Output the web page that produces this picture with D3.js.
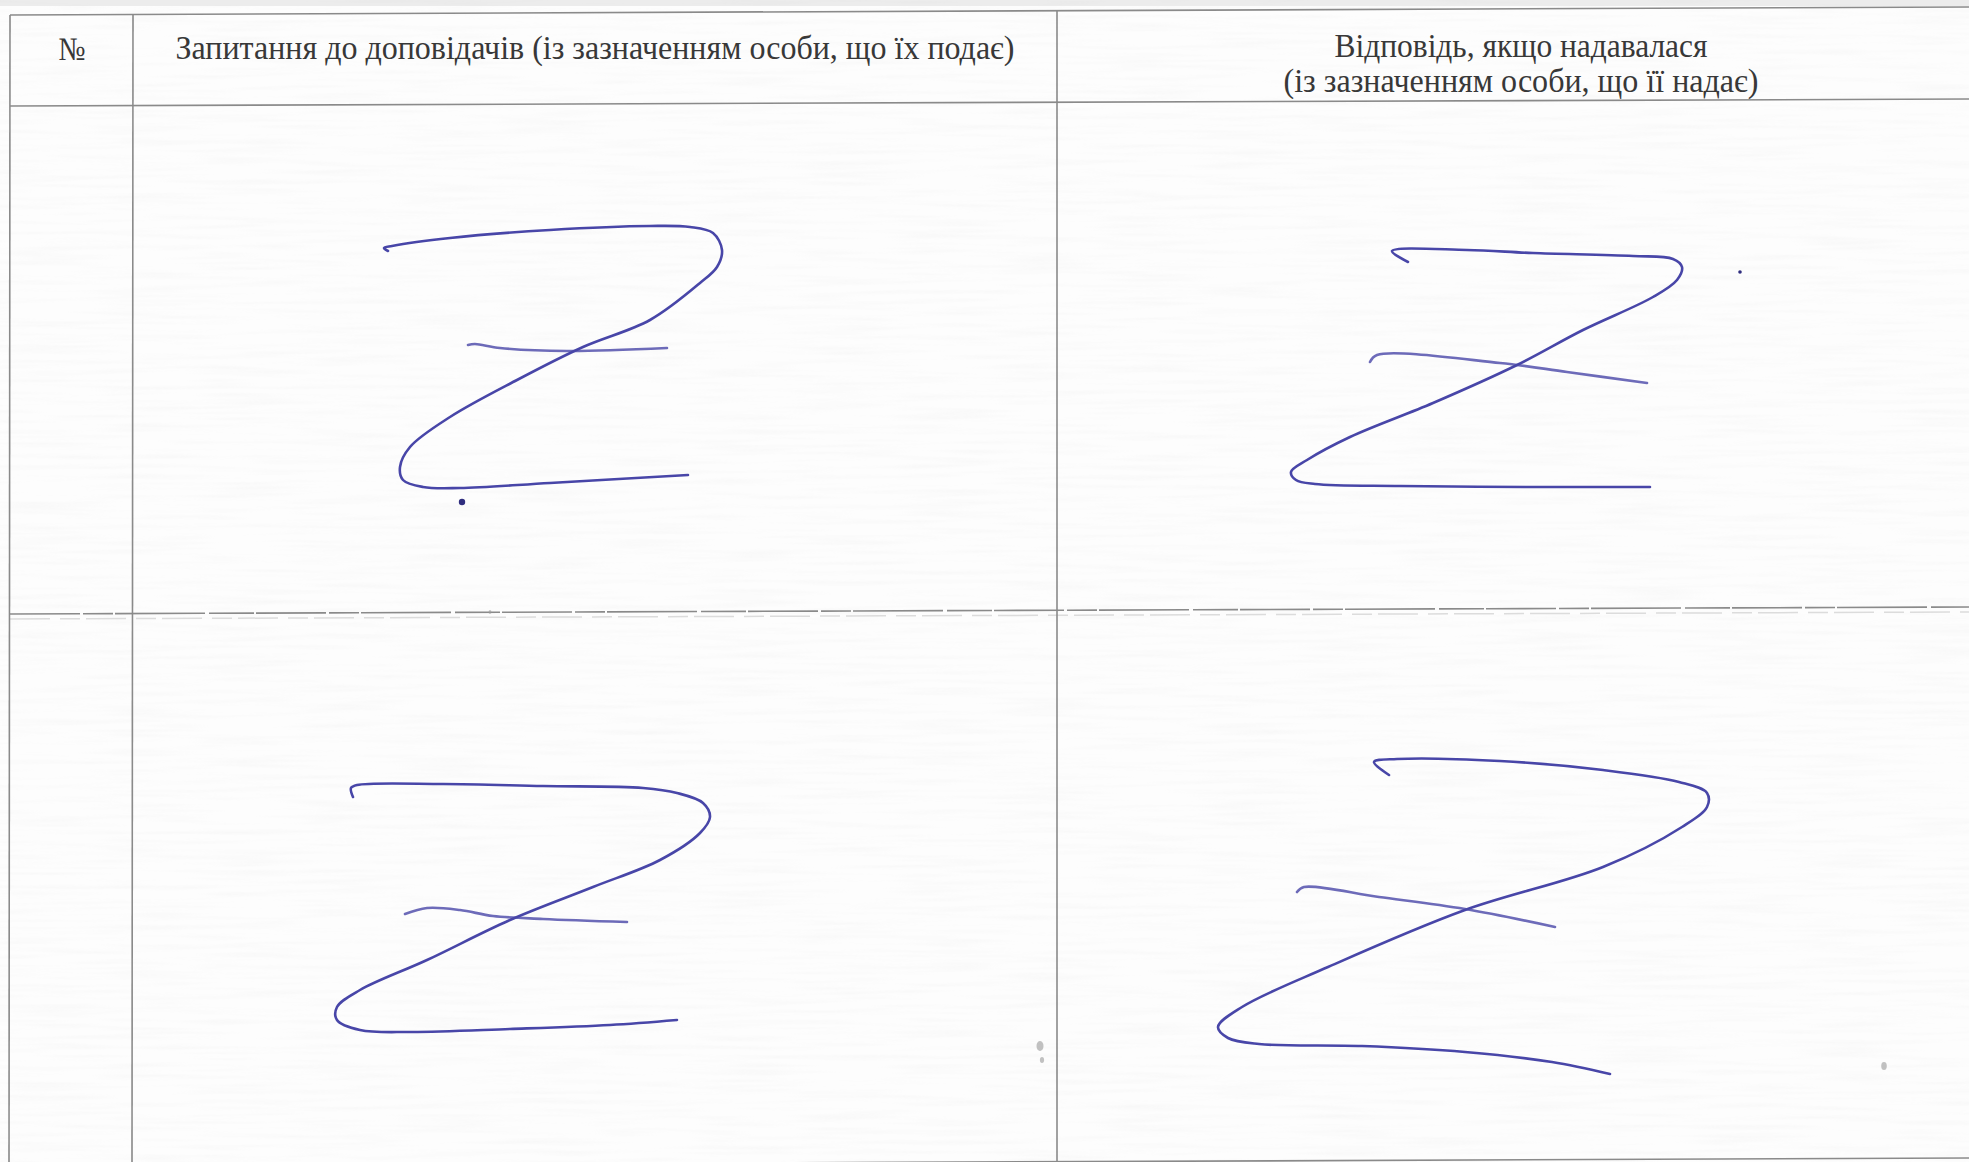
<!doctype html>
<html>
  <head>
    <meta charset="utf-8"/>
    <title>Запитання до доповідачів</title>
    <style>
      body, html {
        margin: 0;
        padding: 0;
        background: #fdfdfd;
        overflow: hidden;
      }
      svg { display: block; }
      .head {
        font-family: "Liberation Serif", "Times New Roman", serif;
        font-size: 33px;
        fill: #383838;
      }
      .rule { stroke: #8a8a8a; stroke-width: 1.6; fill: none; }
      .ink { fill: none; stroke: #4846a8; stroke-width: 2.6; stroke-linecap: round; stroke-linejoin: round; }
    </style>
    <script src="https://d3js.org/d3.v7.min.js"></script>
  </head>
  <body>
    <svg id="sheet" width="1969" height="1162"></svg>

    <script>
      // all values are in pixels of the original scan
      var pageSize = [1969, 1162];

      // column edges of the form (left border, after "№", after questions)
      var colEdges = [10, 133, 1057];
      var colBottomShift = [-1, -1, 0];
      var colCenters = [72, 595, 1521];

      // horizontal rules: y at the left and at the right edge (scan is a bit skewed)
      var ruleLeftY = [15, 106, 614, 1166];
      var ruleRightY = [7, 99, 607, 1158];

      var headerLabels = [
        ["№"],
        ["Запитання до доповідачів (із зазначенням особи, що їх подає)"],
        ["Відповідь, якщо надавалася", "(із зазначенням особи, що її надає)"]
      ];
      var headerLineY = [[48], [47.5], [45, 80]];
      var headerLineWidth = [[27], [839], [373, 475]];

      // handwritten "Z" dashes that strike out the empty cells
      var zQuestion1 = [[388,251],[384,248],[392,246],[450,238],[550,230],[650,226],[690,227],[713,233],[722,250],[717,267],[700,283],[650,320],[583,347],[517,380],[450,417],[410,447],[400,467],[403,480],[423,487],[460,488],[550,483],[688,475]];
      var zQuestion1Bar = [[468,345],[475,344],[500,348],[567,351],[667,348]];
      var zAnswer1 = [[1408,262],[1392,251],[1467,250],[1533,253],[1633,256],[1673,259],[1682,267],[1677,280],[1653,297],[1583,330],[1517,365],[1433,403],[1350,437],[1307,460],[1291,472],[1296,480],[1315,484],[1400,486],[1533,487],[1650,487]];
      var zAnswer1Bar = [[1370,362],[1377,355],[1500,363],[1567,372],[1647,383]];
      var zQuestion2 = [[353,797],[351,788],[357,785],[443,784],[543,786],[643,788],[677,793],[703,803],[710,817],[700,833],[660,860],[593,887],[510,920],[427,960],[360,990],[337,1007],[337,1020],[360,1030],[410,1032],[510,1029],[610,1025],[677,1020]];
      var zQuestion2Bar = [[405,914],[427,908],[460,910],[493,916],[543,919],[627,922]];
      var zAnswer2 = [[1389,775],[1374,762],[1397,759],[1500,761],[1603,770],[1679,782],[1707,793],[1707,807],[1682,827],[1603,867],[1465,910],[1328,967],[1242,1007],[1218,1027],[1228,1038],[1259,1044],[1362,1046],[1465,1052],[1552,1062],[1610,1074]];
      var zAnswer2Bar = [[1297,892],[1304,887],[1379,897],[1465,909],[1555,927]];

      // ink dots and scanner specks
      var inkDots = [[462,502,3.2],[1740,272,1.8]];
      var specks = [[1040,1046,5],[1042,1060,3],[1884,1066,4],[490,612,2]];

      var svg = d3.select("#sheet"),
          width = +svg.attr("width"),
          height = +svg.attr("height");

      var x = d3.scaleLinear().domain([0, pageSize[0]]).range([0, width]),
          y = d3.scaleLinear().domain([0, pageSize[1]]).range([0, height]);

      // faint paper texture of the scan
      var defs = svg.append("defs");
      var f = defs.append("filter").attr("id", "paper")
        .attr("x", 0).attr("y", 0).attr("width", "100%").attr("height", "100%");
      f.append("feTurbulence")
        .attr("type", "fractalNoise")
        .attr("baseFrequency", "0.01 0.2")
        .attr("numOctaves", 2)
        .attr("seed", 7);
      f.append("feColorMatrix")
        .attr("values", "0 0 0 0 0.5  0 0 0 0 0.5  0 0 0 0 0.5  0 0 0 -0.5 0.28");

      svg.append("rect")
        .attr("width", width).attr("height", height)
        .attr("fill", "#fdfdfd");
      svg.append("rect")
        .attr("width", width).attr("height", height)
        .attr("filter", "url(#paper)")
        .attr("opacity", 0.3);

      // darker strip of the scan above the form
      svg.append("rect")
        .attr("x", 0).attr("y", 0)
        .attr("width", width).attr("height", y(6))
        .attr("fill", "#c8c8c8").attr("opacity", 0.3);

      var g = svg.append("g");

      // horizontal rules (the third one is only a fold mark of the scan)
      g.selectAll(".hrule")
        .data(ruleLeftY)
        .enter().append("line")
          .attr("class", "rule")
          .attr("x1", x(colEdges[0]))
          .attr("x2", x(pageSize[0]))
          .attr("y1", function(d) { return y(d); })
          .attr("y2", function(d, i) { return y(ruleRightY[i]); })
          .attr("stroke", function(d, i) { return i == 2 ? "#c2c2c2" : "#7c7c7c"; })
          .attr("stroke-width", function(d, i) { return i == 2 ? 3 : 1.6; })
          .attr("stroke-dasharray", function(d, i) { return i == 2 ? "70 3 30 2 90 4 45 2" : null; });

      g.append("line")
        .attr("x1", x(colEdges[0])).attr("x2", x(pageSize[0]))
        .attr("y1", y(ruleLeftY[2] + 5)).attr("y2", y(ruleRightY[2] + 5))
        .attr("stroke", "#dcdcdc").attr("stroke-width", 1.5)
        .attr("stroke-dasharray", "40 10 20 6");

      // vertical rules
      g.selectAll(".vrule")
        .data(colEdges)
        .enter().append("line")
          .attr("class", "rule")
          .attr("x1", function(d) { return x(d); })
          .attr("x2", function(d, i) { return x(d + colBottomShift[i]); })
          .attr("y1", function(d) { return y(ruleLeftY[0] - 8 * d / pageSize[0]); })
          .attr("y2", function(d) { return y(ruleLeftY[3] - 8 * d / pageSize[0]); })
          .attr("stroke", function(d, i) { return i == 2 ? "#8f8fa8" : "#8a8a8a"; });

      // header labels
      headerLabels.forEach(function(lines, c) {
        g.selectAll(".h" + c)
          .data(lines)
          .enter().append("text")
            .attr("class", "head")
            .attr("x", x(colCenters[c]))
            .attr("y", function(d, i) { return y(headerLineY[c][i]); })
            .attr("dy", "0.35em")
            .attr("text-anchor", "middle")
            .attr("textLength", function(d, i) { return x(headerLineWidth[c][i]); })
            .attr("lengthAdjust", "spacingAndGlyphs")
            .text(function(d) { return d; });
      });

      // strokes
      var pen = d3.line()
        .x(function(d) { return x(d[0]); })
        .y(function(d) { return y(d[1]); })
        .curve(d3.curveCatmullRom.alpha(0.5));

      var strokes = [zQuestion1, zAnswer1, zQuestion2, zAnswer2];
      var bars = [zQuestion1Bar, zAnswer1Bar, zQuestion2Bar, zAnswer2Bar];

      g.selectAll(".zmain")
        .data(strokes)
        .enter().append("path")
          .attr("class", "ink")
          .attr("d", pen);

      g.selectAll(".zbar")
        .data(bars)
        .enter().append("path")
          .attr("class", "ink")
          .attr("stroke-width", 2.3)
          .attr("opacity", 0.8)
          .attr("d", pen);

      g.selectAll(".dot")
        .data(inkDots)
        .enter().append("circle")
          .attr("cx", function(d) { return x(d[0]); })
          .attr("cy", function(d) { return y(d[1]); })
          .attr("r", function(d) { return d[2]; })
          .attr("fill", "#2f2d7e");

      g.selectAll(".speck")
        .data(specks)
        .enter().append("ellipse")
          .attr("cx", function(d) { return x(d[0]); })
          .attr("cy", function(d) { return y(d[1]); })
          .attr("rx", function(d) { return d[2] * 0.7; })
          .attr("ry", function(d) { return d[2]; })
          .attr("fill", "#9a9a9a")
          .attr("opacity", 0.6);
    </script>
  </body>
</html>
